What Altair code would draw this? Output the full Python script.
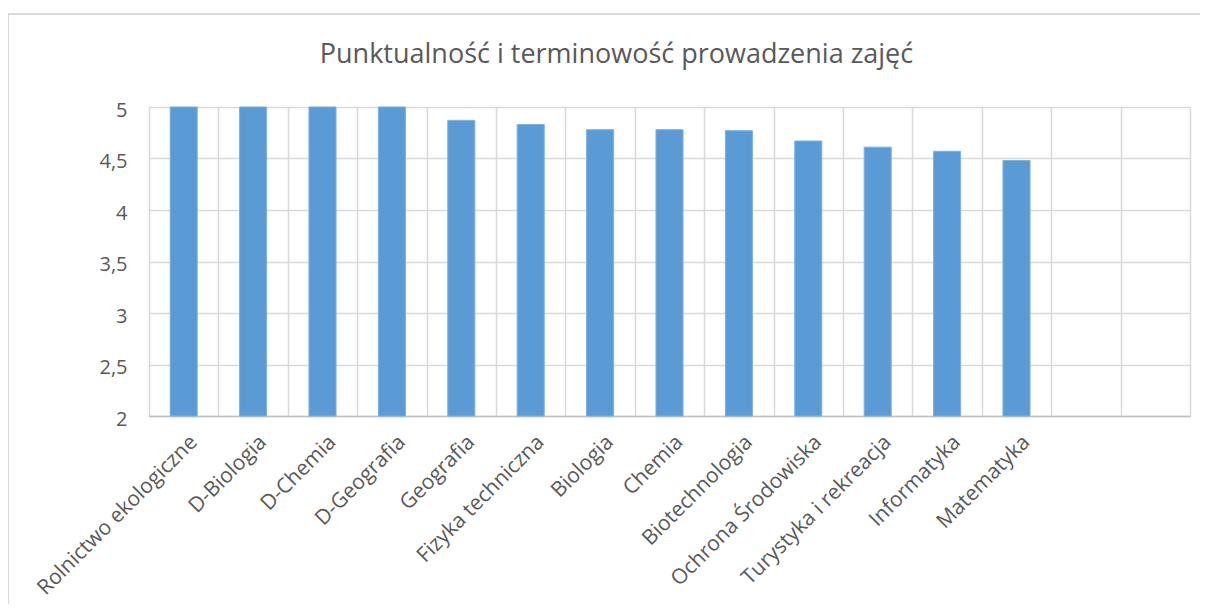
import altair as alt
import pandas as pd

categories = [
    "Rolnictwo ekologiczne", "D-Biologia", "D-Chemia", "D-Geografia", "Geografia",
    "Fizyka techniczna", "Biologia", "Chemia", "Biotechnologia", "Ochrona Środowiska",
    "Turystyka i rekreacja", "Informatyka", "Matematyka",
]
values = [5.0, 5.0, 5.0, 5.0, 4.87, 4.83, 4.78, 4.78, 4.77, 4.67, 4.61, 4.57, 4.48]
empty_slots = [" ", "  "]
y_ticks = [2, 2.5, 3, 3.5, 4, 4.5, 5]
title_text = "Punktualność i terminowość prowadzenia zajęć"

df = pd.DataFrame({"kierunek": categories, "ocena": values})
domain = categories + empty_slots

FONT = "Open Sans"
TXT = "#595959"
GRID = "#d9d9d9"

x_enc = alt.X(
    "kierunek:N",
    sort=domain,
    scale=alt.Scale(domain=domain, paddingInner=0, paddingOuter=0),
    axis=alt.Axis(
        title=None,
        labelAngle=-45,
        labelAlign="right",
        labelBaseline="top",
        labelFont=FONT,
        labelFontSize=21,
        labelColor=TXT,
        labelPadding=15,
        labelOffset=2,
        labelOverlap=False,
        labelLimit=0,
        ticks=False,
        tickSize=0,
        tickBand="extent",
        grid=True,
        gridColor=GRID,
        gridWidth=1.5,
        domainColor="#bfbfbf",
        domainWidth=1.5,
    ),
)

y_enc = alt.Y(
    "ocena:Q",
    scale=alt.Scale(domain=[2, 5], zero=False, nice=False),
    axis=alt.Axis(
        title=None,
        values=y_ticks,
        labelExpr="replace(format(datum.value, '~g'), '.', ',')",
        labelFont=FONT,
        labelFontSize=20,
        labelColor=TXT,
        labelPadding=22,
        labelOffset=3,
        ticks=False,
        tickSize=0,
        domain=False,
        grid=True,
        gridColor=GRID,
        gridWidth=1.5,
    ),
)

bars = alt.Chart(df).mark_bar(
    width=alt.RelativeBandSize(0.39),
    color="#5B9BD5",
    stroke="#7fb1de",
    strokeWidth=1,
).encode(x=x_enc, y=y_enc, y2=alt.datum(2))

frame_left = alt.Chart(df).mark_rule(color=GRID, strokeWidth=2).encode(
    x=alt.value(-141), y=alt.value(-93), y2=alt.value(600)
)
frame_top = alt.Chart(df).mark_rule(color=GRID, strokeWidth=2).encode(
    x=alt.value(-141), x2=alt.value(1100), y=alt.value(-93)
)

chart = (
    alt.layer(bars, frame_left, frame_top)
    .properties(
        width=1041,
        height=309,
        autosize=alt.AutoSizeParams(type="none"),
        padding={"left": 141, "top": 99, "right": 10, "bottom": 188},
        title=alt.TitleParams(
            text=title_text,
            font=FONT,
            fontSize=27,
            fontWeight="normal",
            color=TXT,
            anchor="middle",
            baseline="alphabetic",
            dx=-53,
            offset=-77,
        ),
    )
    .configure_view(stroke=GRID, strokeWidth=1.5)
    .configure(background="white")
)

chart.save("out.html", embed_options={"renderer": "svg", "actions": False})
